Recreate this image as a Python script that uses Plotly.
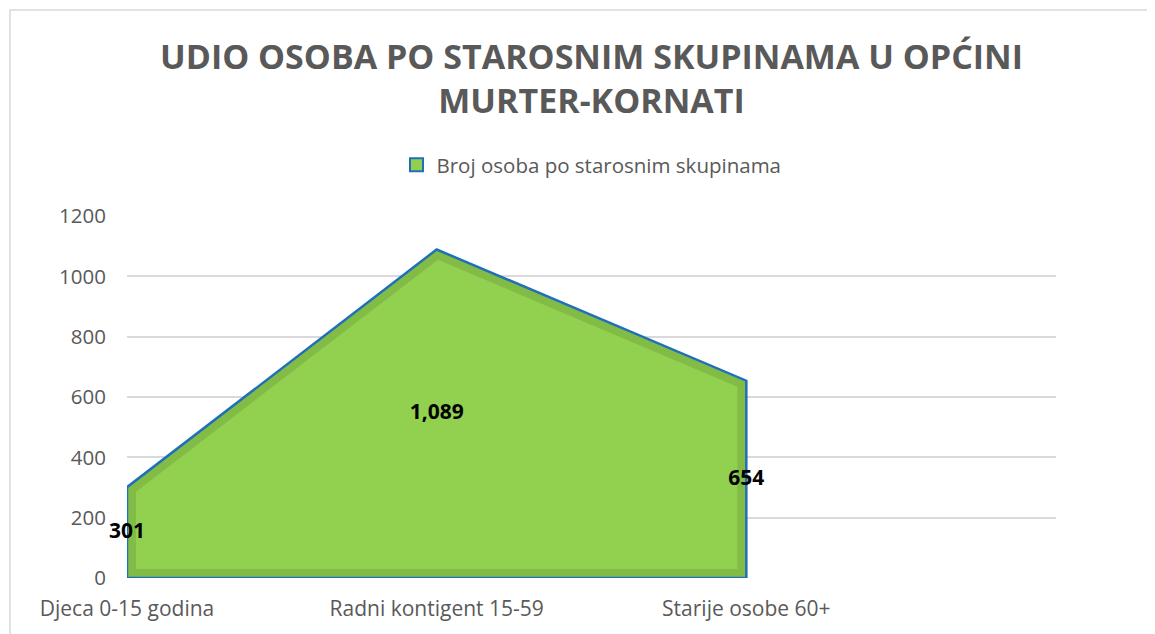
import numpy as np
import plotly.graph_objects as go

categories = ["Djeca 0-15 godina", "Radni kontigent 15-59", "Starije osobe 60+"]
values = [301, 1089, 654]
series_name = "Broj osoba po starosnim skupinama"
title_text = "UDIO OSOBA PO STAROSNIM SKUPINAMA U OPĆINI<br>MURTER-KORNATI"
y_ticks = [0, 200, 400, 600, 800, 1000, 1200]

OFF = 8  # page body margin
W, H = 1155 - OFF, 634 - OFF
ML, MT = 127 - OFF, 216 - OFF
MR = W - (1056 - OFF)
MB = H - (578 - OFF)
X_RANGE = [0, 3]
Y_RANGE = [0, 1200]
pw = W - ML - MR
ph = H - MT - MB
sx = pw / (X_RANGE[1] - X_RANGE[0])
sy = ph / (Y_RANGE[1] - Y_RANGE[0])

xi = list(range(len(values)))
# closed outline polygon (counter-clockwise): baseline, right edge, data, left edge
poly_x = [xi[0], xi[-1]] + xi[::-1]
poly_y = [0, 0] + values[::-1]

# inner polygon (inset band like the Excel bevel)
def inset(px, py, d):
    P = np.column_stack([np.array(px) * sx, np.array(py) * sy])
    n = len(P)
    lines = []
    for i in range(n):
        a, b = P[i], P[(i + 1) % n]
        t = (b - a) / np.linalg.norm(b - a)
        nrm = np.array([-t[1], t[0]])
        lines.append((a + d * nrm, t))
    out = []
    for i in range(n):
        p1, t1 = lines[i - 1]
        p2, t2 = lines[i]
        A = np.column_stack([t1, -t2])
        s = np.linalg.solve(A, p2 - p1)
        out.append(p1 + s[0] * t1)
    out = np.array(out)
    return list(out[:, 0] / sx), list(out[:, 1] / sy)

in_x, in_y = inset(poly_x, poly_y, 9)

fig = go.Figure()
fig.add_trace(go.Scatter(
    x=poly_x + [poly_x[0]], y=poly_y + [poly_y[0]],
    fill="toself", fillcolor="#82BC47", mode="lines",
    line=dict(color="#1F70B8", width=2.5),
    name=series_name, showlegend=False, hoverinfo="skip",
))
fig.add_trace(go.Scatter(
    x=in_x + [in_x[0]], y=in_y + [in_y[0]],
    fill="toself", fillcolor="#92D050", mode="lines",
    line=dict(width=0, color="#92D050"),
    showlegend=False, hoverinfo="skip",
))
fig.add_trace(go.Scatter(
    x=xi, y=[v / 2 for v in values], mode="text",
    text=[f"{v:,}" for v in values],
    textfont=dict(family="Open Sans", size=21, color="#000000", weight="bold"),
    showlegend=False, hoverinfo="skip", cliponaxis=False,
))
# legend entry (square swatch)
fig.add_trace(go.Scatter(
    x=[None], y=[None], mode="markers", name=series_name,
    marker=dict(symbol="square", size=13, color="#92D050",
                line=dict(color="#1F70B8", width=2)),
    showlegend=True,
))

fig.update_layout(
    width=W, height=H,
    margin=dict(l=ML, r=MR, t=MT, b=MB),
    paper_bgcolor="white", plot_bgcolor="white",
    font=dict(family="Open Sans", color="#595959"),
    title=dict(
        text=title_text, x=0.5, xref="paper", xanchor="center",
        y=1 - 61 / H, yref="container", yanchor="top",
        font=dict(family="Open Sans", size=34, color="#595959", weight="bold"),
    ),
    legend=dict(
        orientation="h", x=0.5, xanchor="center", xref="paper",
        y=1 - (165 - OFF) / H, yref="container", yanchor="middle",
        font=dict(family="Open Sans", size=20.5, color="#595959"),
        itemwidth=30,
    ),
    xaxis=dict(
        range=X_RANGE, tickmode="array", tickvals=xi, ticktext=categories,
        showgrid=False, zeroline=False, showline=False,
        tickfont=dict(family="Open Sans", size=21, color="#595959"),
        ticklabelstandoff=16,
    ),
    yaxis=dict(
        range=Y_RANGE, tickmode="array", tickvals=y_ticks,
        showgrid=True, gridcolor="#D9D9D9", gridwidth=1.5,
        zeroline=False, showline=False,
        tickfont=dict(family="Open Sans", size=20.5, color="#595959"),
        ticklabelstandoff=20,
    ),
    shapes=[dict(
        type="rect", xref="paper", yref="paper",
        x0=(10 - OFF - ML) / pw, x1=(W + 20 - ML) / pw,
        y0=-(H + 20 - (H - MB)) / ph, y1=((H - MB) - (10 - OFF)) / ph,
        line=dict(color="#D9D9D9", width=1.5), fillcolor="rgba(0,0,0,0)",
        layer="below",
    )],
)

fig.write_html("out.html")
